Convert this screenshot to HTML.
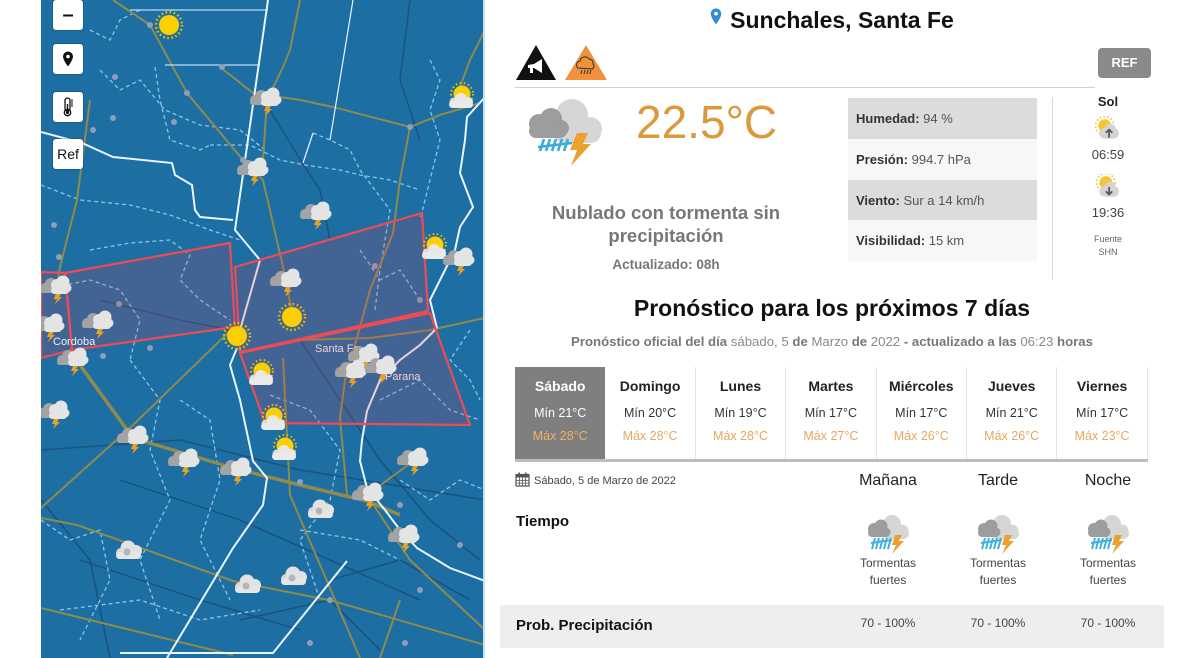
<!DOCTYPE html>
<html><head><meta charset="utf-8">
<style>
*{margin:0;padding:0;box-sizing:border-box}
body{width:1200px;height:658px;overflow:hidden;background:#fff;font-family:"Liberation Sans",Arial,sans-serif;position:relative;color:#222}
.a{position:absolute}
.btn{position:absolute;left:53px;width:30px;height:30px;background:#fff;border-radius:3px;box-shadow:0 0 0 1px rgba(0,0,0,.15);display:flex;align-items:center;justify-content:center;font-size:14px;color:#111}
.row{position:absolute;left:848px;width:189px;height:41px;font-size:13px;line-height:41px;padding-left:8px;color:#555}
.row b{color:#333}
.day{position:absolute;top:367px;width:90.4px;height:92px;text-align:center;border-right:1px solid #e4e4e4}
.day .n{position:absolute;top:10px;left:0;right:0;font-size:14px;font-weight:bold;color:#222;line-height:18px}
.day .mi{position:absolute;top:38px;left:0;right:0;font-size:12.5px;color:#333;line-height:16px}
.day .ma{position:absolute;top:61px;left:0;right:0;font-size:12.5px;color:#e6a85e;line-height:16px}
.ph{position:absolute;top:470px;width:110px;text-align:center;font-size:16px;line-height:22px;color:#222}
.ic{position:absolute;top:513px;width:44px;height:42px}
.tf{position:absolute;top:555px;width:110px;text-align:center;font-size:12px;line-height:17px;color:#444}
.pv{position:absolute;top:615px;width:110px;text-align:center;font-size:12px;line-height:16px;color:#444}
</style></head><body>

<!-- MAP -->
<svg class="a" style="left:41px;top:0" width="444" height="658" viewBox="41 0 444 658">
<defs>
<g id="st">
 <circle cx="-8" cy="0" r="5" fill="#a3a3a3"/><circle cx="-2" cy="-4" r="6" fill="#a3a3a3"/>
 <rect x="-13" y="0" width="16" height="5" rx="2.5" fill="#a3a3a3"/>
 <circle cx="4" cy="-3" r="6" fill="#e4e4e4"/><circle cx="10" cy="-6" r="6.5" fill="#e4e4e4"/><circle cx="14" cy="0" r="4.5" fill="#e4e4e4"/>
 <rect x="-2" y="-1" width="18" height="7" rx="3.5" fill="#e4e4e4"/>
 <polygon points="3,6 8,6 6,9 9,9 2,16 4,11 1,11" fill="#e7a125"/>
</g>
<g id="cl">
 <circle cx="-7" cy="2" r="5" fill="#d8d8d8"/><circle cx="0" cy="-3" r="7.5" fill="#e2e2e2"/><circle cx="8" cy="0" r="6" fill="#e2e2e2"/>
 <rect x="-12" y="1" width="25" height="7" rx="3.5" fill="#e6e6e6"/>
 <circle cx="-1" cy="1" r="3.5" fill="#b5b5b5"/>
</g>
<g id="sn">
 <circle r="13" fill="none" stroke="#f1c100" stroke-width="2.5" stroke-dasharray="1.5 2.6"/>
 <circle r="10" fill="#fcd000"/>
</g>
<g id="ps">
 <circle cx="2" cy="-4" r="11" fill="none" stroke="#f1c100" stroke-width="2" stroke-dasharray="1.5 2.6"/>
 <circle cx="2" cy="-4" r="8.5" fill="#fcd000"/>
 <circle cx="-6" cy="4" r="4.5" fill="#dcdcdc"/><circle cx="1" cy="1" r="6" fill="#e8e8e8"/><circle cx="8" cy="4" r="5" fill="#e8e8e8"/>
 <rect x="-11" y="3" width="24" height="7" rx="3.5" fill="#eaeaea"/>
</g>
</defs>
<rect x="41" y="0" width="444" height="658" fill="#1c6ea3"/>
<g stroke="#1a4d75" stroke-width="1.6" fill="none" opacity=".8">
 <path d="M41 450 L180 440 L300 470 L485 500"/>
 <path d="M120 480 L240 520 L330 560 L420 600"/>
 <path d="M80 560 L200 600 L300 630"/>
 <path d="M270 110 Q300 160 320 190 L330 240"/>
 <path d="M300 340 L340 400 L380 460 L430 520 L480 560"/>
 <path d="M330 580 L400 560 L470 600"/>
 <path d="M41 500 L90 560 L110 658"/>
 <path d="M100 300 L180 320 L230 330"/>
 <path d="M410 0 L400 80 L420 140"/>
 <path d="M240 620 L330 600 L380 650"/>
</g>
<g stroke="#8ec3e6" stroke-width="1.3" fill="none" stroke-dasharray="4 3">
 <path d="M100 70 L120 90 L140 80 L165 110 L200 125 L240 130 L265 150"/>
 <path d="M41 185 L80 200 L130 205 L170 215 L210 230 L240 240"/>
 <path d="M155 67 L160 100 L170 140 L200 150 L210 145"/>
 <path d="M210 145 L250 145 L280 160 L305 165 L340 170 L360 175 L390 180 L420 190"/>
 <path d="M313 133 L330 140 L350 150 L360 170 L390 210 L380 270 L375 310"/>
 <path d="M430 60 L440 80 L430 110 L440 140 L430 180 L420 220"/>
 <path d="M90 250 L130 243 L170 240 L190 255 L180 280 L200 300 L230 320"/>
 <path d="M41 290 L90 280 L120 290 L140 320 L130 360"/>
 <path d="M130 360 L160 400 L150 450 L170 500 L140 560 L160 620"/>
 <path d="M41 520 L70 540 L100 530 L110 580 L80 640"/>
 <path d="M180 400 L210 420 L220 480 L200 540 L230 600"/>
 <path d="M270 395 L310 410 L340 450 L330 500 L300 540 L320 600"/>
 <path d="M380 400 L420 380 L450 410 L480 420"/>
 <path d="M400 480 L430 500 L460 480 L485 490"/>
 <path d="M60 610 L140 600 L200 620 L260 610"/>
 <path d="M300 530 L360 540 L400 560"/>
 <path d="M90 30 L110 40 L120 20 L140 10"/>
 <path d="M470 330 L450 360 L470 380 L480 400"/>
 <path d="M360 250 L380 280 L400 270 L420 300"/>
</g>
<g stroke="#8f8b4c" stroke-width="2" fill="none">
 <path d="M113 0 L150 25 L187 93 L243 160 L263 180 L283 267 L293 317"/>
 <path d="M220 67 L253 93 L300 100 L333 107 L410 127 L440 115 L480 103"/>
 <path d="M300 0 L290 50 L283 67 L267 100 L263 160"/>
 <path d="M410 127 L400 180 L393 233 L370 290 L360 327 L345 380 L340 418 L347 495"/>
 <path d="M485 30 L470 60 L460 87"/>
 <path d="M41 508 L133 425 L233 328"/>
 <path d="M41 518 L77 525 L233 581 L333 601 L485 645"/>
 <path d="M41 608 L233 655"/>
 <path d="M283 358 L290 495 L333 595 L360 658"/>
 <path d="M90 100 L77 200 L60 267 L55 300"/>
 <path d="M367 495 L412 462"/>
 <path d="M367 495 L410 560 L485 630"/>
 <path d="M300 340 L370 338 L430 330 L485 318"/>
 <path d="M400 600 L380 658"/>
</g>
<path d="M77 361 L133 438 L233 468 L300 485 L367 501 L400 515" stroke="#8f8b4c" stroke-width="3.5" fill="none"/>
<g stroke="#e9f5ff" stroke-width="2" fill="none">
 <path d="M268 0 L235 230 L260 260 L240 330"/>
 <path d="M41 132 L82 143 L113 157 L172 163 L175 175 L192 185 L195 210 L200 217 L233 220"/>
 <path d="M485 97 L467 117 L465 140 L460 173 L473 207 L460 227 L455 250 L430 300 L437 328"/>
 <path d="M437 328 L420 345 L400 360 L380 380 L367 411 L362 440 L360 461 L367 488 L385 510 L400 530 L417 548 L450 568 L485 581"/>
 <path d="M237 348 L230 365 L240 400 L253 461 L267 478 L263 505 L233 548 L167 658"/>
 <path d="M347 561 L273 653 L120 653"/>
 <path d="M330 140 L353 0" stroke-width="1.2"/>
 <path d="M313 133 L303 163" stroke-width="1.2"/>
 <path d="M130 10 L268 10" stroke-width="1"/>
 <path d="M165 65 L260 65" stroke-width="1"/>
</g>
<g fill="#8da0b5">
 <circle cx="150" cy="25" r="3"/><circle cx="187" cy="93" r="3"/><circle cx="115" cy="77" r="3"/><circle cx="113" cy="118" r="3"/><circle cx="174" cy="122" r="3"/><circle cx="93" cy="130" r="3"/><circle cx="222" cy="67" r="3"/><circle cx="243" cy="160" r="3"/><circle cx="410" cy="127" r="3"/><circle cx="54" cy="225" r="3"/><circle cx="59" cy="257" r="3"/><circle cx="119" cy="304" r="3"/><circle cx="375" cy="266" r="3"/><circle cx="420" cy="300" r="3"/><circle cx="103" cy="356" r="3"/><circle cx="150" cy="348" r="3"/><circle cx="300" cy="482" r="3"/><circle cx="330" cy="600" r="3"/><circle cx="420" cy="590" r="3"/><circle cx="310" cy="643" r="3"/><circle cx="405" cy="643" r="3"/><circle cx="400" cy="505" r="3"/><circle cx="460" cy="545" r="3"/>
</g>
<g stroke="#ee4b55" stroke-width="2.2" fill="rgba(235,60,85,0.19)" stroke-linejoin="round">
 <polygon points="41,272 65,273 72,350 41,358"/>
 <polygon points="65,273 230,243 235,327 72,350"/>
 <polygon points="235,267 422,213 428,311 240,352"/>
 <polygon points="240,353 430,313 470,425 265,423"/>
</g>
<g font-family="Liberation Sans, sans-serif" font-size="11" fill="#f3cfd4">
 <text x="53" y="345" fill="#f0f0f0">Cordoba</text>
 <text x="315" y="352">Santa Fe</text>
 <text x="385" y="380">Parana</text>
</g>
<use href="#sn" x="169" y="25"/>
<use href="#sn" x="237" y="336"/>
<use href="#sn" x="292" y="317"/>
<use href="#ps" x="260" y="375"/>
<use href="#ps" x="272" y="420"/>
<use href="#ps" x="283" y="450"/>
<use href="#ps" x="460" y="98"/>
<use href="#ps" x="433" y="249"/>
<use href="#st" x="263" y="100"/>
<use href="#st" x="250" y="170"/>
<use href="#st" x="313" y="214"/>
<use href="#st" x="456" y="260"/>
<use href="#st" x="283" y="281"/>
<use href="#st" x="53" y="288"/>
<use href="#st" x="95" y="323"/>
<use href="#st" x="46" y="326"/>
<use href="#st" x="70" y="360"/>
<use href="#st" x="51" y="413"/>
<use href="#st" x="130" y="438"/>
<use href="#st" x="181" y="461"/>
<use href="#st" x="233" y="470"/>
<use href="#st" x="361" y="356"/>
<use href="#st" x="348" y="372"/>
<use href="#st" x="378" y="368"/>
<use href="#st" x="410" y="460"/>
<use href="#st" x="365" y="495"/>
<use href="#st" x="401" y="537"/>
<use href="#cl" x="320" y="510"/>
<use href="#cl" x="128" y="551"/>
<use href="#cl" x="247" y="585"/>
<use href="#cl" x="293" y="577"/>
<rect x="483" y="0" width="2" height="658" fill="#bfe3f7"/>
</svg>

<div class="btn" style="top:0;font-weight:bold;font-size:20px;line-height:20px">&#8211;</div>
<div class="btn" style="top:44px">
 <svg width="12" height="16" viewBox="0 0 12 16"><path d="M6 0.5a5 5 0 0 1 5 5c0 3.5-5 10-5 10s-5-6.5-5-10a5 5 0 0 1 5-5z" fill="#111"/><circle cx="6" cy="5.5" r="1.8" fill="#fff"/></svg>
</div>
<div class="btn" style="top:92px">
 <svg width="14" height="20" viewBox="0 0 14 20"><rect x="4" y="1" width="5" height="13" rx="2.5" fill="none" stroke="#111" stroke-width="1.3"/><circle cx="6.5" cy="15.5" r="3.2" fill="none" stroke="#111" stroke-width="1.3"/><circle cx="6.5" cy="15.5" r="1.6" fill="#111"/><rect x="5.8" y="7" width="1.4" height="8" fill="#111"/><g stroke="#111" stroke-width="1"><path d="M10 3h2M10 5h2M10 7h2M10 9h2"/></g></svg>
</div>
<div class="btn" style="top:139px;font-size:14px">Ref</div>

<div class="a" style="left:500px;top:6px;width:664px;text-align:center;font-size:23px;font-weight:bold;line-height:28px;color:#111">
 <svg width="12" height="17" viewBox="0 0 12 17" style="vertical-align:3px;margin-right:8px"><path d="M6 0.5a5.3 5.3 0 0 1 5.3 5.3c0 3.7-5.3 10.7-5.3 10.7S0.7 9.5 0.7 5.8A5.3 5.3 0 0 1 6 0.5z" fill="#2f8bd6"/><circle cx="6" cy="5.6" r="1.9" fill="#fff"/></svg>Sunchales, Santa Fe
</div>

<svg class="a" style="left:515px;top:44px" width="42" height="37" viewBox="0 0 42 37">
 <polygon points="21,1 41,36 1,36" fill="#111"/>
 <path d="M13 21 l6 -1 l8 -5 v14 l-8 -5 l-6 0 z" fill="#fff"/><rect x="15" y="24" width="3" height="5" fill="#fff"/>
</svg>
<svg class="a" style="left:564px;top:44px" width="44" height="37" viewBox="0 0 44 37">
 <polygon points="22,1 43,36 1,36" fill="#f0913c"/>
 <path d="M14 24 a4 4 0 0 1 2-7 a5 5 0 0 1 9-2 a4 4 0 0 1 4 5 a3 3 0 0 1-1 5 z" fill="none" stroke="#333" stroke-width="1"/>
 <g stroke="#333" stroke-width="1"><path d="M18 26 l-1 4M21 26 l-1 4M24 26 l-1 4M27 26 l-1 4"/></g>
</svg>
<div class="a" style="left:515px;top:87px;width:580px;height:1px;background:#d0d0d0"></div>
<div class="a" style="left:1098px;top:48px;width:53px;height:30px;background:#8a8a8a;border-radius:4px;color:#fff;font-weight:bold;font-size:13px;line-height:30px;text-align:center">REF</div>

<svg class="a" style="left:524px;top:95px" width="80" height="72" viewBox="0 0 80 72">
 <g fill="#d6d6d6"><circle cx="48" cy="20" r="16"/><circle cx="33" cy="28" r="10"/><circle cx="66" cy="34" r="12"/><rect x="30" y="28" width="47" height="20" rx="10"/></g>
 <g fill="#9d9d9d"><circle cx="15" cy="29" r="10"/><circle cx="27" cy="24" r="11"/><circle cx="37" cy="33" r="8"/><rect x="5" y="29" width="38" height="14" rx="7"/></g>
 <g stroke="#39acd8" stroke-width="2.6" fill="none"><path d="M20 44 l-4 12M26 44 l-4 12M32 44 l-4 12M38 44 l-4 12M44 44 l-4 12"/><path d="M14 52 l34 -4"/></g>
 <polygon points="53,38 64,38 59,49 67,49 47,71 53,55 46,55" fill="#eaa130"/>
</svg>
<div class="a" style="left:636px;top:96px;font-size:46px;line-height:52px;color:#d9993c">22.5°C</div>
<div class="a" style="left:516px;top:201px;width:300px;text-align:center;font-size:18.5px;font-weight:bold;line-height:23px;color:#777">Nublado con tormenta sin<br>precipitación</div>
<div class="a" style="left:516px;top:256px;width:300px;text-align:center;font-size:13.5px;font-weight:bold;line-height:17px;color:#777">Actualizado: 08h</div>

<div class="row" style="top:98px;background:#dcdcdc"><b>Humedad:</b> 94 %</div>
<div class="row" style="top:139px;background:#f7f7f7"><b>Presión:</b> 994.7 hPa</div>
<div class="row" style="top:180px;background:#dcdcdc"><b>Viento:</b> Sur a 14 km/h</div>
<div class="row" style="top:220px;background:#f7f7f7"><b>Visibilidad:</b> 15 km</div>
<div class="a" style="left:1052px;top:97px;width:1px;height:183px;background:#d8d8d8"></div>

<div class="a" style="left:1068px;top:93px;width:80px;text-align:center;font-size:13px;font-weight:bold;line-height:17px">Sol</div>
<svg class="a" style="left:1095px;top:116px" width="26" height="26" viewBox="0 0 24 24">
 <circle cx="9" cy="9" r="6" fill="#f6c531"/><circle cx="9" cy="9" r="8.5" fill="none" stroke="#f6c531" stroke-width="1.5" stroke-dasharray="1.5 2"/>
 <rect x="4" y="11" width="18" height="10" rx="5" fill="#d4d4d4"/><circle cx="14" cy="12" r="5" fill="#d4d4d4"/>
 <path d="M13 20 v-7 M10 15.5 l3-3 l3 3" stroke="#555" stroke-width="1.6" fill="none"/>
</svg>
<div class="a" style="left:1068px;top:146px;width:80px;text-align:center;font-size:13px;line-height:17px;color:#444">06:59</div>
<svg class="a" style="left:1095px;top:174px" width="26" height="26" viewBox="0 0 24 24">
 <circle cx="10" cy="8" r="6" fill="#f6c531"/><circle cx="10" cy="8" r="8.5" fill="none" stroke="#f6c531" stroke-width="1.5" stroke-dasharray="1.5 2"/>
 <rect x="4" y="11" width="18" height="10" rx="5" fill="#d4d4d4"/><circle cx="14" cy="12" r="5" fill="#d4d4d4"/>
 <path d="M13 12 v7 M10 16 l3 3 l3-3" stroke="#555" stroke-width="1.6" fill="none"/>
</svg>
<div class="a" style="left:1068px;top:204px;width:80px;text-align:center;font-size:13px;line-height:17px;color:#444">19:36</div>
<div class="a" style="left:1068px;top:233px;width:80px;text-align:center;font-size:9px;line-height:13px;color:#666">Fuente<br>SHN</div>

<div class="a" style="left:500px;top:294px;width:664px;text-align:center;font-size:23px;font-weight:bold;line-height:28px;color:#111">Pronóstico para los próximos 7 días</div>
<div class="a" style="left:500px;top:333px;width:664px;text-align:center;font-size:13.2px;line-height:17px;color:#8a8a8a"><b style="color:#777">Pronóstico oficial del día</b> sábado, 5 <b style="color:#777">de</b> Marzo <b style="color:#777">de</b> 2022 <b style="color:#777">- actualizado a las</b> 06:23 <b style="color:#777">horas</b></div>

<div class="day" style="left:515px;background:#7f7f7f;border-right:none"><div class="n" style="color:#fff">Sábado</div><div class="mi" style="color:#fff">Mín 21°C</div><div class="ma" style="color:#f2b266">Máx 28°C</div></div>
<div class="day" style="left:605.4px"><div class="n">Domingo</div><div class="mi">Mín 20°C</div><div class="ma">Máx 28°C</div></div>
<div class="day" style="left:695.8px"><div class="n">Lunes</div><div class="mi">Mín 19°C</div><div class="ma">Máx 28°C</div></div>
<div class="day" style="left:786.2px"><div class="n">Martes</div><div class="mi">Mín 17°C</div><div class="ma">Máx 27°C</div></div>
<div class="day" style="left:876.6px"><div class="n">Miércoles</div><div class="mi">Mín 17°C</div><div class="ma">Máx 26°C</div></div>
<div class="day" style="left:967px"><div class="n">Jueves</div><div class="mi">Mín 21°C</div><div class="ma">Máx 26°C</div></div>
<div class="day" style="left:1057.4px"><div class="n">Viernes</div><div class="mi">Mín 17°C</div><div class="ma">Máx 23°C</div></div>
<div class="a" style="left:515px;top:459px;width:633px;height:3px;background:#bdbdbd"></div>

<svg class="a" style="left:515px;top:472px" width="15" height="15" viewBox="0 0 15 15">
 <rect x="1" y="2.5" width="13" height="11.5" fill="none" stroke="#555" stroke-width="1.2"/>
 <rect x="1" y="2.5" width="13" height="3" fill="#555"/>
 <g stroke="#555" stroke-width=".8"><path d="M4.5 5.5v8.5M7.5 5.5v8.5M10.5 5.5v8.5M1 8.3h13M1 11.1h13"/></g>
 <rect x="3.5" y="0.5" width="1.5" height="3" fill="#555"/><rect x="10" y="0.5" width="1.5" height="3" fill="#555"/>
</svg>
<div class="a" style="left:534px;top:474px;font-size:11px;line-height:14px;color:#444">Sábado, 5 de Marzo de 2022</div>
<div class="ph" style="left:833px">Mañana</div>
<div class="ph" style="left:943px">Tarde</div>
<div class="ph" style="left:1053px">Noche</div>
<div class="a" style="left:516px;top:512px;font-size:15px;font-weight:bold;line-height:19px;color:#111">Tiempo</div>

<svg width="0" height="0" style="position:absolute"><defs>
<g id="sm">
 <g fill="#d6d6d6"><circle cx="26" cy="11" r="9"/><circle cx="18" cy="15" r="6"/><circle cx="36" cy="18" r="6.5"/><rect x="16" y="15" width="27" height="11" rx="5.5"/></g>
 <g fill="#9d9d9d"><circle cx="8" cy="16" r="6"/><circle cx="15" cy="13" r="6.5"/><circle cx="20" cy="19" r="4.5"/><rect x="2" y="16" width="22" height="8" rx="4"/></g>
 <g stroke="#3fb0db" stroke-width="2" fill="none"><path d="M9 25 l-3 11M13 25 l-3 11M17 25 l-3 11M21 25 l-3 11M25 25 l-3 11"/><path d="M5 30 l21-3"/></g>
 <polygon points="29,22 36,22 33,28 38,28 26,41 30,32 26,32" fill="#eaa130"/>
</g></defs></svg>
<svg class="ic" style="left:866px" viewBox="0 0 44 42"><use href="#sm"/></svg>
<svg class="ic" style="left:976px" viewBox="0 0 44 42"><use href="#sm"/></svg>
<svg class="ic" style="left:1086px" viewBox="0 0 44 42"><use href="#sm"/></svg>
<div class="tf" style="left:833px">Tormentas<br>fuertes</div>
<div class="tf" style="left:943px">Tormentas<br>fuertes</div>
<div class="tf" style="left:1053px">Tormentas<br>fuertes</div>

<div class="a" style="left:500px;top:605px;width:664px;height:43px;background:#eeeeee"></div>
<div class="a" style="left:516px;top:616px;font-size:15px;font-weight:bold;line-height:19px;color:#111">Prob. Precipitación</div>
<div class="pv" style="left:833px">70 - 100%</div>
<div class="pv" style="left:943px">70 - 100%</div>
<div class="pv" style="left:1053px">70 - 100%</div>
</body></html>
